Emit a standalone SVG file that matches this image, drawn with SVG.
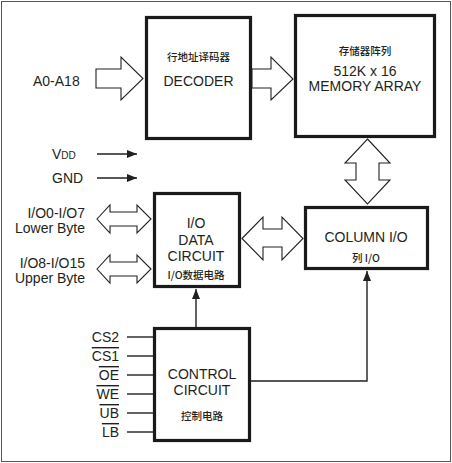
<svg xmlns="http://www.w3.org/2000/svg" width="452" height="463" viewBox="0 0 452 463">
<style>
.t{font-family:"Liberation Sans",Arial,"Noto Sans CJK SC",sans-serif;font-size:14px;fill:#231f20}
.c{font-family:"Noto Sans CJK SC","Liberation Sans",sans-serif;font-size:10.5px;font-weight:500;fill:#231f20}
.m{text-anchor:middle}
.e{text-anchor:end}
.box{fill:#fff;stroke:#1a1a1a;stroke-width:3.2}
.hollow{fill:#fff;stroke:#231f20;stroke-width:1.1;stroke-linejoin:miter}
.ln{fill:none;stroke:#231f20;stroke-width:1.4}
.ov{text-decoration:overline}
</style>
<defs>
<marker id="ah" markerUnits="userSpaceOnUse" markerWidth="10" markerHeight="8" refX="10" refY="4" orient="auto">
<path d="M0,0 L10,4 L0,8 Z" fill="#231f20"/>
</marker>
</defs>
<rect x="1.5" y="1.5" width="449" height="460" fill="#fff" stroke="#555" stroke-width="1"/>

<g id="decoder">
<rect class="box" x="146.5" y="17.5" width="104" height="121"/>
<text class="c m" x="198.5" y="61">行地址译码器</text>
<text class="t m" x="198.5" y="86">DECODER</text>
</g>
<g id="memory">
<rect class="box" x="295.5" y="15.5" width="139" height="121"/>
<text class="c m" x="365" y="55">存储器阵列</text>
<text class="t m" x="365" y="76">512K x 16</text>
<text class="t m" x="365" y="91">MEMORY ARRAY</text>
</g>
<g id="iodata">
<rect class="box" x="154.5" y="193.5" width="85" height="93"/>
<text class="t m" x="196" y="228">I/O</text>
<text class="t m" x="196" y="245">DATA</text>
<text class="t m" x="196" y="261">CIRCUIT</text>
<text class="c m" x="196" y="279">I/O数据电路</text>
</g>
<g id="column">
<rect class="box" x="305.5" y="207.5" width="122" height="61"/>
<text class="t m" x="366" y="242">COLUMN I/O</text>
<text class="c m" x="366" y="262">列 I/O</text>
</g>
<g id="control">
<rect class="box" x="154.5" y="328.5" width="95" height="112"/>
<text class="t m" x="202" y="379">CONTROL</text>
<text class="t m" x="202" y="395">CIRCUIT</text>
<text class="c m" x="202" y="420">控制电路</text>
</g>

<g id="labels">
<text class="t" x="33" y="86">A0-A18</text>
<text class="t" x="52" y="159">V<tspan font-size="10">DD</tspan></text>
<text class="t" x="52" y="183">GND</text>
<text class="t e" x="85" y="218">I/O0-I/O7</text>
<text class="t e" x="85" y="233">Lower Byte</text>
<text class="t e" x="85" y="268">I/O8-I/O15</text>
<text class="t e" x="85" y="283">Upper Byte</text>
<text class="t e" x="119" y="342">CS2</text>
<text class="t e ov" x="119" y="361">CS1</text>
<text class="t e ov" x="119" y="380">OE</text>
<text class="t e ov" x="119" y="399">WE</text>
<text class="t e ov" x="119" y="418">UB</text>
<text class="t e ov" x="119" y="437">LB</text>
</g>

<g id="connectors">
<path class="hollow" d="M96,69 H121 V57 L143,78.5 L121,100 V88 H96 Z"/>
<path class="hollow" d="M252,69 H271 V57 L293,79 L271,100 V88 H252 Z"/>
<path class="hollow" d="M367.5,139 L390,163 H379 V180 H390 L367.5,204 L345,180 H356 V163 H345 Z"/>
<path class="hollow" d="M242,238.5 L263,217 V229 H282 V217 L303,238.5 L282,260 V247 H263 V260 Z"/>
<path class="hollow" d="M97,219 L110,205 V212 H137 V205 L151,219 L137,233 V226 H110 V233 Z"/>
<path class="hollow" d="M97,269 L110,255 V262 H137 V255 L151,269 L137,283 V276 H110 V283 Z"/>
<line class="ln" x1="97" y1="154" x2="137" y2="154" marker-end="url(#ah)"/>
<line class="ln" x1="97" y1="178" x2="137" y2="178" marker-end="url(#ah)"/>
<line class="ln" x1="196" y1="327" x2="196" y2="289" marker-end="url(#ah)"/>
<polyline class="ln" points="251,381 367,381 367,271" marker-end="url(#ah)"/>
<line class="ln" x1="127" y1="337" x2="153" y2="337"/>
<line class="ln" x1="127" y1="356" x2="153" y2="356"/>
<line class="ln" x1="127" y1="375" x2="153" y2="375"/>
<line class="ln" x1="127" y1="394" x2="153" y2="394"/>
<line class="ln" x1="127" y1="413" x2="153" y2="413"/>
<line class="ln" x1="127" y1="432" x2="153" y2="432"/>
</g>
</svg>
